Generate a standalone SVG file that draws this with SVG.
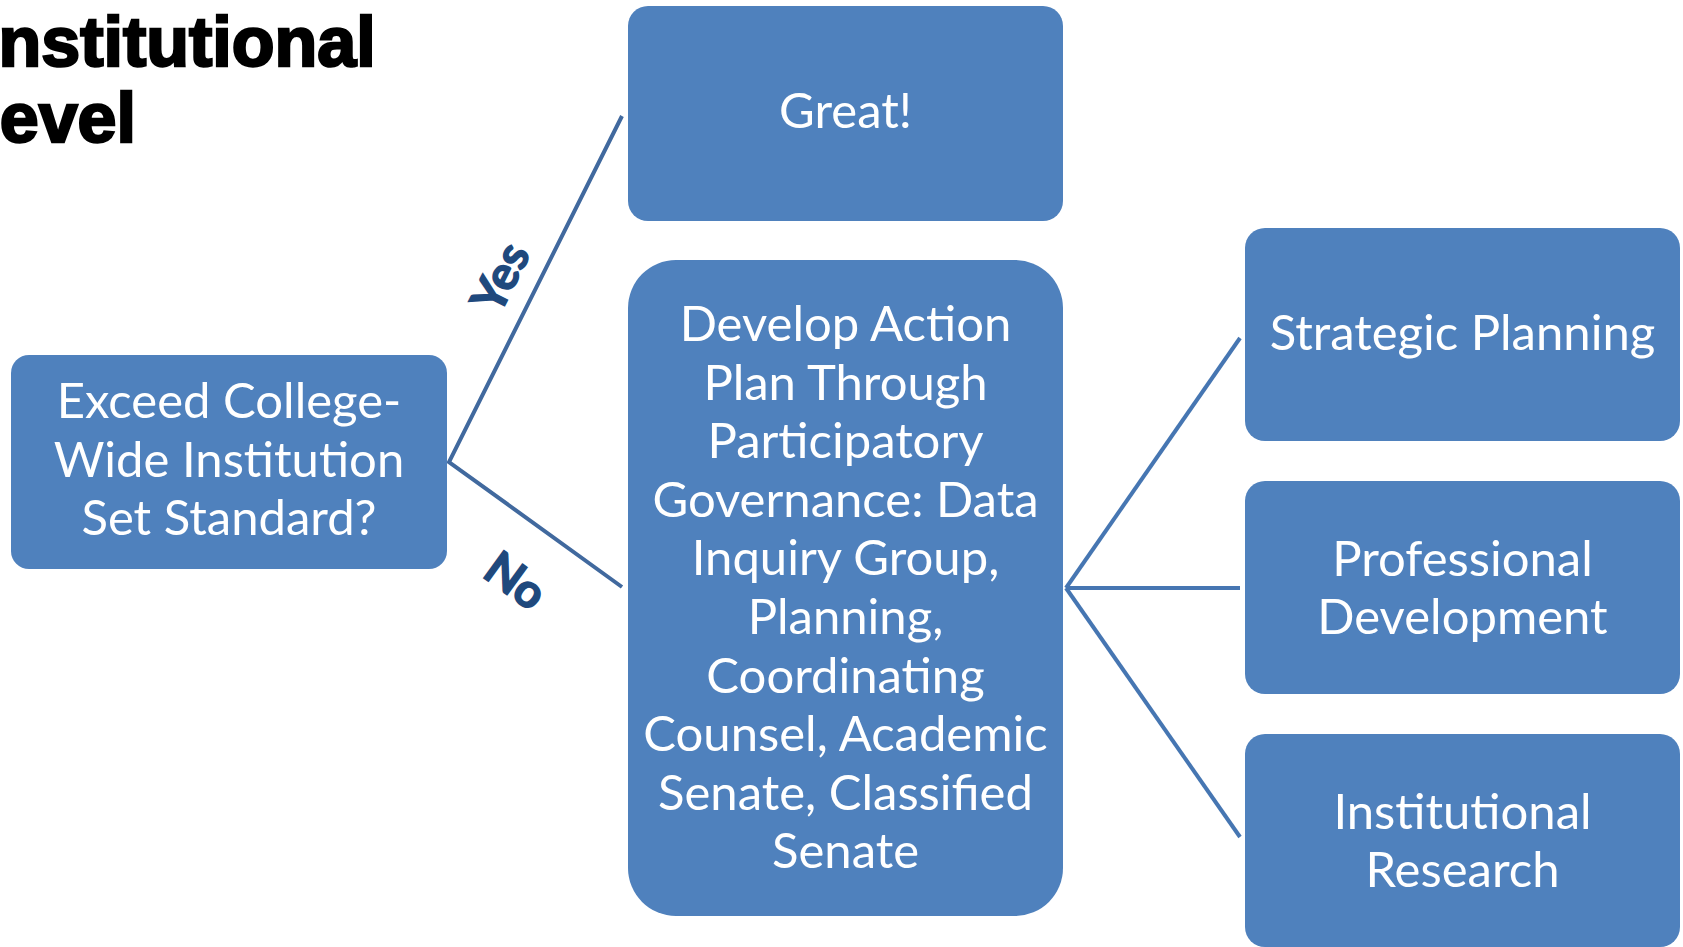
<svg xmlns="http://www.w3.org/2000/svg" width="1683" height="947" viewBox="0 0 1683 947">
<style>
.box{fill:#4F81BD;}
.lbl{font-family:Lato,"Open Sans","Liberation Sans",sans-serif;font-size:49px;fill:#FFFFFF;text-anchor:middle;}
.conn{stroke:#41699E;stroke-width:4;fill:none;}
.conn2{stroke:#4676B2;stroke-width:4;fill:none;}
.yn{font-family:Lato,"Open Sans","Liberation Sans",sans-serif;font-weight:bold;font-size:47px;fill:#1F497D;stroke:#1F497D;stroke-width:1.5;text-anchor:middle;}
.title{font-family:"Liberation Sans",Arial,sans-serif;font-weight:bold;font-size:70px;fill:#000;stroke:#000;stroke-width:2.5;}
</style>
<rect width="1683" height="947" fill="#FFFFFF"/>
<g id="title">
<text class="title" x="-21" y="66">Institutional</text>
<text class="title" x="-43" y="142">Level</text>
</g>
<g id="connectors">
<polyline class="conn" points="622,116 449,462 622,587"/>
<line class="conn2" x1="1066" y1="588" x2="1240" y2="338"/>
<line class="conn2" x1="1066" y1="588" x2="1240" y2="588"/>
<line class="conn2" x1="1066" y1="588" x2="1240" y2="837"/>
<text class="yn" transform="translate(515,285) rotate(-63)">Yes</text>
<text class="yn" transform="translate(506,594) rotate(36)">No</text>
</g>
<g id="exceed">
<rect class="box" x="11" y="355" width="436" height="214" rx="18"/>
<text class="lbl"><tspan x="229" y="418">Exceed College-</tspan><tspan x="229" y="477">Wide Institution</tspan><tspan x="229" y="535">Set Standard?</tspan></text>
</g>
<g id="great">
<rect class="box" x="628" y="6" width="435" height="215" rx="20"/>
<text class="lbl" x="845.5" y="128">Great!</text>
</g>
<g id="develop">
<rect class="box" x="628" y="260" width="435" height="656" rx="48"/>
<text class="lbl"><tspan x="845.5" y="341">Develop Action</tspan><tspan x="845.5" y="399.6">Plan Through</tspan><tspan x="845.5" y="458.2">Participatory</tspan><tspan x="845.5" y="516.8">Governance: Data</tspan><tspan x="845.5" y="575.4">Inquiry Group,</tspan><tspan x="845.5" y="634">Planning,</tspan><tspan x="845.5" y="692.6">Coordinating</tspan><tspan x="845.5" y="751.2">Counsel, Academic</tspan><tspan x="845.5" y="809.8">Senate, Classified</tspan><tspan x="845.5" y="868.4">Senate</tspan></text>
</g>
<g id="strategic">
<rect class="box" x="1245" y="228" width="435" height="213" rx="20"/>
<text class="lbl" x="1462.5" y="350">Strategic Planning</text>
</g>
<g id="professional">
<rect class="box" x="1245" y="481" width="435" height="213" rx="20"/>
<text class="lbl"><tspan x="1462.5" y="576">Professional</tspan><tspan x="1462.5" y="634">Development</tspan></text>
</g>
<g id="research">
<rect class="box" x="1245" y="734" width="435" height="213" rx="20"/>
<text class="lbl"><tspan x="1462.5" y="829">Institutional</tspan><tspan x="1462.5" y="887">Research</tspan></text>
</g>
</svg>
